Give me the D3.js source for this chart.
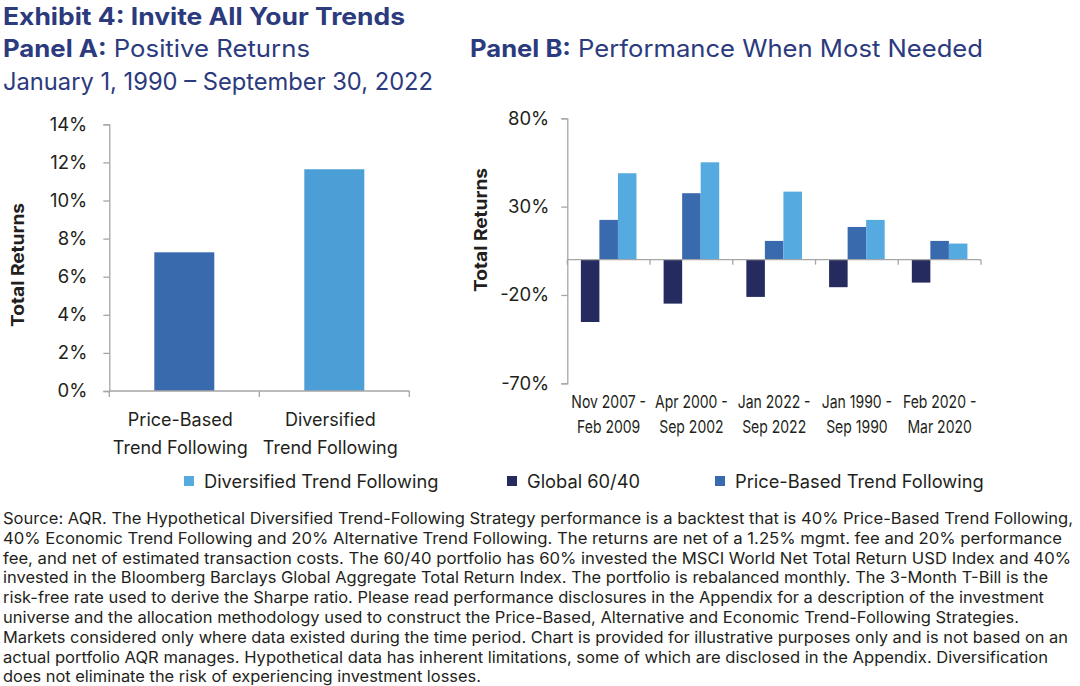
<!DOCTYPE html>
<html>
<head>
<meta charset="utf-8">
<script src="https://cdn.jsdelivr.net/npm/d3@7"></script>
<style>
  html, body { margin: 0; padding: 0; background: #ffffff; }
  svg { display: block; }
  text { font-family: Inter, "Noto Sans", sans-serif; }
</style>
</head>
<body>
<svg id="chart" width="1080" height="686"></svg>
<script>
// ---------- data ----------
const titleMain = "Exhibit 4: Invite All Your Trends";
const panelATitleBold = "Panel A:";
const panelATitleRest = " Positive Returns";
const panelASubtitle = "January 1, 1990 \u2013 September 30, 2022";
const panelBTitleBold = "Panel B:";
const panelBTitleRest = " Performance When Most Needed";
const yAxisTitle = "Total Returns";

const categoriesA = ["Price-Based Trend Following", "Diversified Trend Following"];
const categoryLinesA = [["Price-Based", "Trend Following"], ["Diversified", "Trend Following"]];
const valuesA = [7.28, 11.64];
const ticksA = [0, 2, 4, 6, 8, 10, 12, 14];

const categoriesB = ["Nov 2007 - Feb 2009", "Apr 2000 - Sep 2002", "Jan 2022 - Sep 2022", "Jan 1990 - Sep 1990", "Feb 2020 - Mar 2020"];
const categoryLinesB = [["Nov 2007 -", "Feb 2009"], ["Apr 2000 -", "Sep 2002"], ["Jan 2022 -", "Sep 2022"], ["Jan 1990 -", "Sep 1990"], ["Feb 2020 -", "Mar 2020"]];
const seriesNames = ["Global 60/40", "Price-Based Trend Following", "Diversified Trend Following"];
const global6040 = [-35.3, -24.9, -21.1, -15.6, -13.0];
const priceBased = [22.5, 37.6, 10.6, 18.5, 10.6];
const diversified = [48.9, 55.1, 38.5, 22.5, 9.1];
const ticksB = [-70, -20, 30, 80];

const legendOrder = ["Diversified Trend Following", "Global 60/40", "Price-Based Trend Following"];

const footnoteLines = [
  "Source: AQR. The Hypothetical Diversified Trend-Following Strategy performance is a backtest that is 40% Price-Based Trend Following,",
  "40% Economic Trend Following and 20% Alternative Trend Following. The returns are net of a 1.25% mgmt. fee and 20% performance",
  "fee, and net of estimated transaction costs. The 60/40 portfolio has 60% invested the MSCI World Net Total Return USD Index and 40%",
  "invested in the Bloomberg Barclays Global Aggregate Total Return Index. The portfolio is rebalanced monthly. The 3-Month T-Bill is the",
  "risk-free rate used to derive the Sharpe ratio. Please read performance disclosures in the Appendix for a description of the investment",
  "universe and the allocation methodology used to construct the Price-Based, Alternative and Economic Trend-Following Strategies.",
  "Markets considered only where data existed during the time period. Chart is provided for illustrative purposes only and is not based on an",
  "actual portfolio AQR manages. Hypothetical data has inherent limitations, some of which are disclosed in the Appendix. Diversification",
  "does not eliminate the risk of experiencing investment losses."
];

// ---------- styles ----------
const navyTitle = "#2c3a7e";
const textColor = "#231f20";
const axisColor = "#a6a6a6";
const colorA = ["#3a6aae", "#4b9fd6"];
const seriesColors = {
  "Global 60/40": "#252b5f",
  "Price-Based Trend Following": "#3a6aae",
  "Diversified Trend Following": "#55abdf"
};
const footnoteEnds = [1073, 1062, 1071, 1048, 1044, 1019, 1068, 1048, 481];

const svg = d3.select("#chart");

// ---------- titles ----------
function fitText(sel, width) {
  sel.attr("textLength", width).attr("lengthAdjust", "spacingAndGlyphs");
}
fitText(svg.append("text").attr("x", 3).attr("y", 25)
  .attr("font-size", 24).attr("font-weight", 700).attr("fill", navyTitle)
  .text(titleMain), 402);

const tA = svg.append("text").attr("x", 3).attr("y", 57).attr("font-size", 24).attr("fill", navyTitle);
tA.append("tspan").attr("font-weight", 700).text(panelATitleBold);
tA.append("tspan").attr("font-weight", 400).text(panelATitleRest);
fitText(tA, 307);

fitText(svg.append("text").attr("x", 3).attr("y", 90)
  .attr("font-size", 24).attr("fill", navyTitle).text(panelASubtitle), 430);

const tB = svg.append("text").attr("x", 470).attr("y", 57).attr("font-size", 24).attr("fill", navyTitle);
tB.append("tspan").attr("font-weight", 700).text(panelBTitleBold);
tB.append("tspan").attr("font-weight", 400).text(panelBTitleRest);
fitText(tB, 513);

// ---------- Panel A ----------
const xA = d3.scaleBand().domain(categoriesA).range([109.3, 409.3]).paddingInner(0.6).paddingOuter(0.3);
const yA = d3.scaleLinear().domain([0, 14]).range([391, 124.3]);

const gA = svg.append("g");
gA.selectAll("rect.barA").data(categoriesA).join("rect")
  .attr("class", "barA")
  .attr("x", d => xA(d))
  .attr("width", xA.bandwidth())
  .attr("y", (d, i) => yA(valuesA[i]))
  .attr("height", (d, i) => yA(0) - yA(valuesA[i]))
  .attr("fill", (d, i) => colorA[i]);

const axA = gA.append("g").attr("transform", `translate(${xA.range()[0]},0)`)
  .call(d3.axisLeft(yA).tickValues(ticksA).tickSize(6).tickPadding(16).tickFormat(d => d + "%"));
axA.selectAll("path, line").attr("stroke", axisColor).attr("stroke-width", 1.3);
axA.selectAll("text").attr("font-size", 18.5).attr("fill", textColor).attr("font-family", "Inter, sans-serif");

// x axis A
const stepA = xA.step();
const x0A = xA.range()[0];
gA.append("line").attr("x1", x0A).attr("x2", xA.range()[1]).attr("y1", yA(0)).attr("y2", yA(0))
  .attr("stroke", axisColor).attr("stroke-width", 1.3);
gA.selectAll("line.tickXA").data(d3.range(categoriesA.length + 1)).join("line")
  .attr("class", "tickXA")
  .attr("x1", i => x0A + i * stepA).attr("x2", i => x0A + i * stepA)
  .attr("y1", yA(0)).attr("y2", yA(0) + 6)
  .attr("stroke", axisColor).attr("stroke-width", 1.3);
categoriesA.forEach((c, i) => {
  const cx = xA(c) + xA.bandwidth() / 2 - 4;
  categoryLinesA[i].forEach((ln, j) => {
    gA.append("text").attr("x", cx).attr("y", 426 + j * 28)
      .attr("text-anchor", "middle").attr("font-size", 18).attr("fill", textColor).text(ln);
  });
});

fitText(svg.append("text").attr("transform", "translate(24,265) rotate(-90)")
  .attr("x", -62).attr("font-size", 17.5).attr("font-weight", 700).attr("fill", textColor)
  .text(yAxisTitle), 124);

// ---------- Panel B ----------
const xB = d3.scaleBand().domain(categoriesB).range([567.3, 981]).paddingInner(0.328).paddingOuter(0.164);
const xInner = d3.scaleBand().domain(seriesNames).range([0, xB.bandwidth()]).padding(0);
const yB = d3.scaleLinear().domain([-70, 80]).range([383.3, 118.3]);
const seriesValues = { "Global 60/40": global6040, "Price-Based Trend Following": priceBased, "Diversified Trend Following": diversified };

const gB = svg.append("g");
const flat = [];
categoriesB.forEach((c, i) => seriesNames.forEach(s => flat.push({ c, s, v: seriesValues[s][i] })));
gB.selectAll("rect.barB").data(flat).join("rect")
  .attr("class", "barB")
  .attr("x", d => xB(d.c) + xInner(d.s))
  .attr("width", xInner.bandwidth())
  .attr("y", d => yB(Math.max(0, d.v)))
  .attr("height", d => Math.abs(yB(d.v) - yB(0)))
  .attr("fill", d => seriesColors[d.s]);

const axB = gB.append("g").attr("transform", `translate(${xB.range()[0]},0)`)
  .call(d3.axisLeft(yB).tickValues(ticksB).tickSize(6).tickPadding(12).tickFormat(d => d + "%"));
axB.selectAll("path, line").attr("stroke", axisColor).attr("stroke-width", 1.3);
axB.selectAll("text").attr("font-size", 18.5).attr("fill", textColor).attr("font-family", "Inter, sans-serif");

const stepB = xB.step();
const x0B = xB.range()[0];
gB.append("line").attr("x1", x0B).attr("x2", xB.range()[1]).attr("y1", yB(0)).attr("y2", yB(0))
  .attr("stroke", axisColor).attr("stroke-width", 1.3);
gB.selectAll("line.tickXB").data(d3.range(categoriesB.length + 1)).join("line")
  .attr("class", "tickXB")
  .attr("x1", i => x0B + i * stepB).attr("x2", i => x0B + i * stepB)
  .attr("y1", yB(0)).attr("y2", yB(0) + 5)
  .attr("stroke", axisColor).attr("stroke-width", 1.3);
categoriesB.forEach((c, i) => {
  const cx = xB(c) + xB.bandwidth() / 2;
  categoryLinesB[i].forEach((ln, j) => {
    gB.append("text")
      .attr("transform", `translate(${cx},${408 + j * 25}) scale(0.8,1)`)
      .attr("text-anchor", "middle").attr("font-size", 17.5).attr("fill", textColor).text(ln);
  });
});

fitText(svg.append("text").attr("transform", "translate(487,230) rotate(-90)")
  .attr("x", -62).attr("font-size", 17.5).attr("font-weight", 700).attr("fill", textColor)
  .text(yAxisTitle), 124);

// ---------- legend ----------
const legendX = [184, 507, 715];
const legend = svg.append("g");
legendOrder.forEach((s, i) => {
  legend.append("rect").attr("x", legendX[i]).attr("y", 476).attr("width", 10).attr("height", 10)
    .attr("fill", seriesColors[s]);
  legend.append("text").attr("x", legendX[i] + 20).attr("y", 488)
    .attr("font-size", 18.3).attr("fill", textColor).text(s);
});

// ---------- footnote ----------
const fn = svg.append("g");
footnoteLines.forEach((ln, i) => {
  fn.append("text").attr("x", 3).attr("y", 524 + i * 19.8)
    .attr("font-size", 16).attr("fill", textColor)
    .attr("textLength", footnoteEnds[i] - 3).attr("lengthAdjust", "spacingAndGlyphs")
    .text(ln);
});
</script>
</body>
</html>
